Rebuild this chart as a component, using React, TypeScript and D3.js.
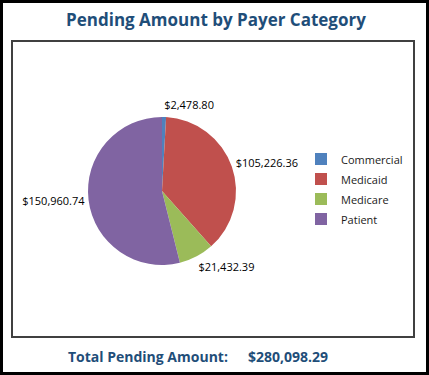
import React from "react";
import * as d3 from "d3";

const categories = ["Commercial", "Medicaid", "Medicare", "Patient"];
const amounts = [2478.8, 105226.36, 21432.39, 150960.74];
const colors = ["#4F81BD", "#C0504D", "#9BBB59", "#8064A2"];
const title = "Pending Amount by Payer Category";
const totalLabel = "Total Pending Amount:";

const W = 429;
const H = 375;

export default function App() {
  const cx = 162;
  const cy = 191;
  const r = 74;
  const pie = d3.pie<number>().sort(null).value((d) => d)(amounts);
  const arc = d3.arc<d3.PieArcDatum<number>>().innerRadius(0).outerRadius(r);
  const fmt = d3.format("$,.2f");
  const total = d3.sum(amounts);
  const font = "'Open Sans', sans-serif";

  return (
    <svg width={W} height={H} style={{ position: "absolute", left: 0, top: 0, display: "block" }}>
      <rect x={0} y={0} width={W} height={H} fill="#fff" />
      <rect x={1.5} y={1.5} width={W - 3} height={H - 3} fill="none" stroke="#000" strokeWidth={3} />
      <text x={216} y={26} textAnchor="middle" fontFamily={font} fontWeight={700} fontSize={17} fill="#1F4E79">
        {title}
      </text>
      <rect x={12} y={41} width={402} height={296} fill="#fff" stroke="#404040" strokeWidth={2} />
      <g transform={`translate(${cx},${cy})`}>
        {pie.map((p, i) => (
          <path key={i} d={arc(p) || ""} fill={colors[i]} />
        ))}
        {pie.map((p, i) => {
          const a = (p.startAngle + p.endAngle) / 2;
          const px = Math.sin(a) * (r + 4);
          const anchor = Math.sin(a) >= 0 ? "start" : "end";
          const ty = -Math.cos(a) * (r + 12) + 4;
          return (
            <text key={i} x={px} y={ty} textAnchor={anchor} fontFamily={font} fontSize={11} fill="#000">
              {fmt(amounts[i])}
            </text>
          );
        })}
      </g>
      <g>
        {categories.map((c, i) => (
          <g key={c} transform={`translate(315,${153 + i * 20})`}>
            <rect x={0} y={0} width={12} height={12} fill={colors[i]} />
            <text x={26} y={11} fontFamily={font} fontSize={11} fill="#1a1a1a">
              {c}
            </text>
          </g>
        ))}
      </g>
      <text x={68} y={362} fontFamily={font} fontWeight={700} fontSize={14} fill="#1F4E79">
        {totalLabel}
      </text>
      <text x={248} y={362} fontFamily={font} fontWeight={700} fontSize={14} fill="#1F4E79">
        {fmt(total)}
      </text>
    </svg>
  );
}
